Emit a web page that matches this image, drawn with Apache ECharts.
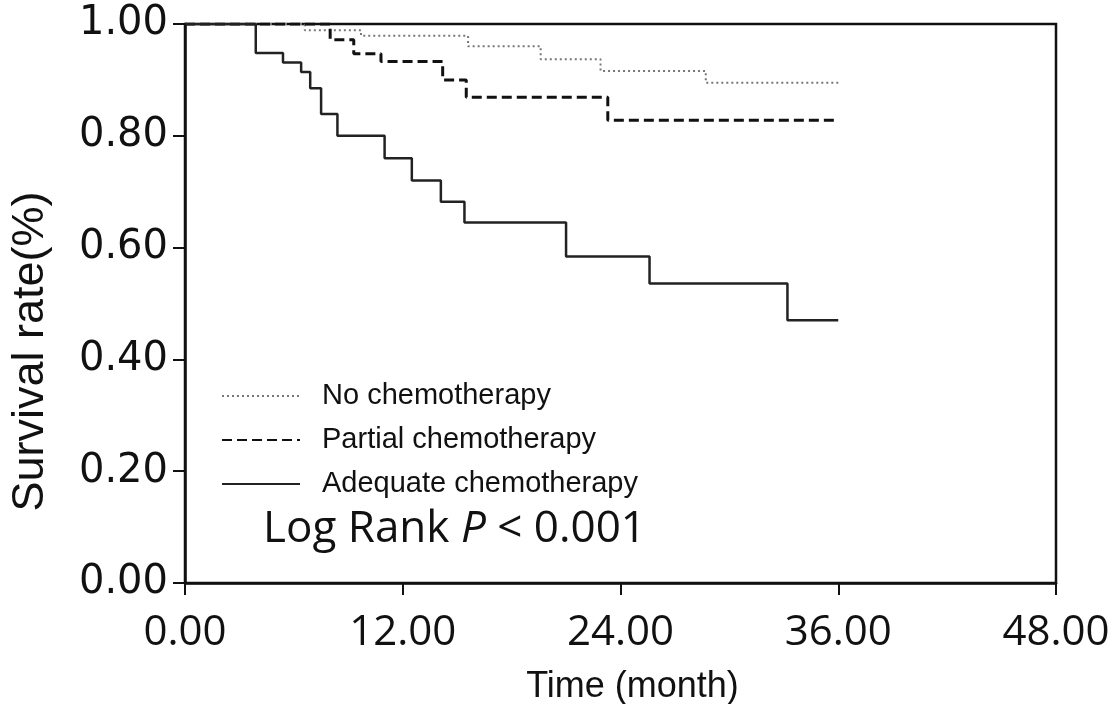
<!DOCTYPE html>
<html>
<head>
<meta charset="utf-8">
<script src="https://cdn.jsdelivr.net/npm/echarts@6/dist/echarts.min.js"></script>
<style>
  html, body { margin: 0; padding: 0; background: #fff; }
  #chart-container { width: 1113px; height: 704px; }
</style>
</head>
<body>
<div id="chart-container"></div>
<script>
// survival curves (time in months, rate 0..1)
const noChemoTime = [0, 6.6, 9.7, 15.6, 19.6, 22.9, 28.7, 36];
const noChemoRate = [1.0, 0.989, 0.979, 0.96, 0.937, 0.916, 0.895, 0.895];

const partialTime = [0, 8.0, 9.3, 10.8, 14.2, 15.5, 23.3, 36];
const partialRate = [1.0, 0.972, 0.947, 0.933, 0.9, 0.869, 0.828, 0.828];

const adequateTime = [0, 3.9, 5.4, 6.4, 6.9, 7.5, 8.4, 11.0, 12.5, 14.1, 15.4, 21.0, 25.6, 33.2, 36];
const adequateRate = [1.0, 0.948, 0.931, 0.914, 0.885, 0.839, 0.8, 0.76, 0.72, 0.682, 0.645, 0.584, 0.536, 0.47, 0.47];

const seriesNames = ["No chemotherapy", "Partial chemotherapy", "Adequate chemotherapy"];

function pairs(t, v) {
  return t.map((x, i) => [x, v[i]]);
}

const chart = echarts.init(document.getElementById("chart-container"));

const option = {
  backgroundColor: "#fff",
  animation: false,
  title: {
    left: 258,
    top: 502,
    text: "{a|Log Rank }{b|P}{a| < 0.001}",
    textStyle: {
      fontWeight: "normal",
      rich: {
        a: { fontFamily: "Open Sans", fontSize: 44, fontWeight: "normal", color: "#111" },
        b: { fontFamily: "Open Sans", fontSize: 44, fontWeight: "normal", fontStyle: "italic", color: "#111" },
      },
    },
  },
  legend: {
    orient: "vertical",
    left: 216,
    top: 376,
    itemWidth: 78,
    itemHeight: 14,
    itemGap: 14,
    data: seriesNames,
    itemStyle: { opacity: 0 },
    textStyle: {
      fontFamily: "Liberation Sans",
      fontSize: 29,
      color: "#111",
      lineHeight: 30,
      padding: [0, 0, 0, 17],
    },
  },
  grid: {
    left: 185,
    right: 57,
    top: 24,
    bottom: 121,
    outerBoundsMode: "none",
    containLabel: false,
    show: true,
    borderColor: "#111",
    borderWidth: 2.5,
  },
  xAxis: {
    type: "value",
    min: 0,
    max: 48,
    interval: 12,
    name: "Time (month)",
    nameLocation: "middle",
    nameGap: 86,
    nameTextStyle: { fontFamily: "Liberation Sans", fontSize: 36, color: "#111", padding: [0, 0, 0, 24] },
    axisLine: { lineStyle: { color: "#111", width: 2.5 } },
    axisTick: { inside: false, length: 12, lineStyle: { color: "#111", width: 2 } },
    axisLabel: {
      margin: 29,
      fontFamily: "Open Sans",
      fontSize: 42,
      color: "#111",
      formatter: (v) => v.toFixed(2),
    },
    splitLine: { show: false },
  },
  yAxis: {
    type: "value",
    min: 0,
    max: 1,
    interval: 0.2,
    name: "Survival rate(%)",
    nameLocation: "middle",
    nameGap: 132,
    nameTextStyle: { fontFamily: "Liberation Sans", fontSize: 45, color: "#111", padding: [0, 96, 0, 0] },
    axisLine: { lineStyle: { color: "#111", width: 2.5 } },
    axisTick: { inside: false, length: 12, lineStyle: { color: "#111", width: 2 } },
    axisLabel: {
      margin: 17,
      fontFamily: "DejaVu Sans",
      fontSize: 40,
      color: "#111",
      formatter: (v) => v.toFixed(2),
    },
    splitLine: { show: false },
  },
  series: [
    {
      name: seriesNames[0],
      type: "line",
      step: "end",
      symbol: "none",
      data: pairs(noChemoTime, noChemoRate),
      lineStyle: { color: "#777", width: 2, type: [2, 3] },
      itemStyle: { color: "#777" },
    },
    {
      name: seriesNames[1],
      type: "line",
      step: "end",
      symbol: "none",
      data: pairs(partialTime, partialRate),
      lineStyle: { color: "#111", width: 3, type: [10, 5] },
      itemStyle: { color: "#111" },
    },
    {
      name: seriesNames[2],
      type: "line",
      step: "end",
      symbol: "none",
      data: pairs(adequateTime, adequateRate),
      lineStyle: { color: "#222", width: 2.5, type: "solid" },
      itemStyle: { color: "#222" },
    },
  ],
};

chart.setOption(option);
</script>
</body>
</html>
